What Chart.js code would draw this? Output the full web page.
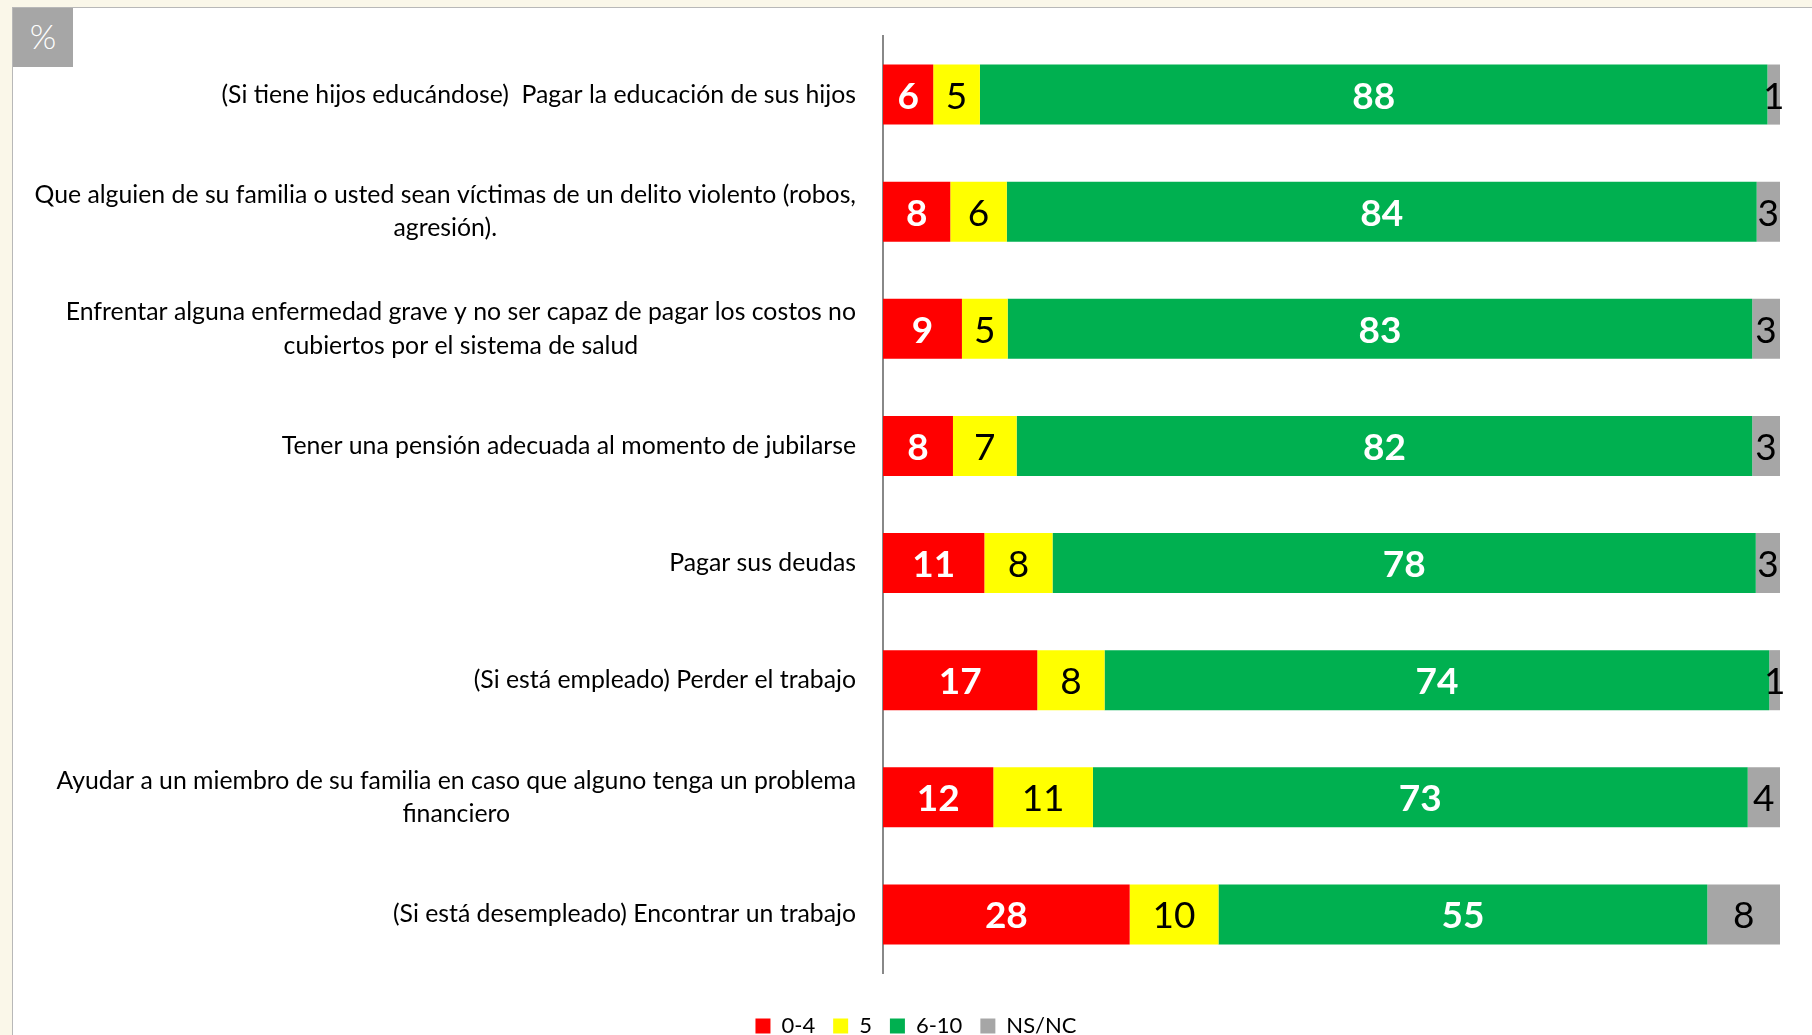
<!DOCTYPE html>
<html lang="es">
<head>
    <meta charset="UTF-8">
    <title>Preocupaciones financieras</title>
    <script src="https://cdn.jsdelivr.net/npm/chart.js"></script>
    <style>
        html, body {
            margin: 0;
            padding: 0;
        }
        body {
            width: 1812px;
            height: 1035px;
            background: #faf7e9;
            position: relative;
            overflow: hidden;
            font-family: Lato, sans-serif;
        }
        .panel {
            position: absolute;
            left: 12px;
            top: 7px;
            right: 0;
            bottom: 0;
            background: #fff;
            border-left: 1px solid #b8b8b8;
            border-top: 1px solid #b8b8b8;
        }
        .pct {
            position: absolute;
            left: 13px;
            top: 8px;
            width: 60px;
            height: 59px;
            background: #a6a6a6;
            color: #fff;
            font-size: 34px;
            font-weight: 300;
            line-height: 56px;
            text-align: center;
        }
        #myChart {
            position: absolute;
            left: 0;
            top: 0;
        }
    </style>
</head>
<body>
    <div class="panel"></div>
    <div class="pct">%</div>
    <canvas id="myChart" width="1812" height="1050"></canvas>

    <script>
        // rows, top to bottom
        const categories = [
            '(Si tiene hijos educándose)  Pagar la educación de sus hijos',
            ['Que alguien de su familia o usted sean víctimas de un delito violento (robos,', 'agresión).'],
            ['Enfrentar alguna enfermedad grave y no ser capaz de pagar los costos no', 'cubiertos por el sistema de salud'],
            'Tener una pensión adecuada al momento de jubilarse',
            'Pagar sus deudas',
            '(Si está empleado) Perder el trabajo',
            ['Ayudar a un miembro de su familia en caso que alguno tenga un problema', 'financiero'],
            '(Si está desempleado) Encontrar un trabajo'
        ];

        const seriesNames = ['0-4', '5', '6-10', 'NS/NC'];

        // percentages (shown rounded on the bars)
        const low = [5.6, 7.5, 8.8, 7.8, 11.3, 17.2, 12.3, 27.5];
        const mid = [5.2, 6.3, 5.1, 7.1, 7.6, 7.5, 11.1, 9.9];
        const high = [87.8, 83.6, 83.0, 82.0, 78.4, 74.1, 73.0, 54.5];
        const nsnc = [1.4, 2.6, 3.1, 3.1, 2.7, 1.2, 3.6, 8.1];

        const colors = ['#ff0000', '#ffff00', '#00b050', '#a6a6a6'];
        const labelStyles = [
            { color: '#ffffff', weight: 'bold' },
            { color: '#000000', weight: 'normal' },
            { color: '#ffffff', weight: 'bold' },
            { color: '#000000', weight: 'normal' }
        ];

        const FONT = 'Lato, sans-serif';

        // numbers inside the bar segments
        const valueLabels = {
            id: 'valueLabels',
            afterDatasetsDraw(chart) {
                const ctx = chart.ctx;
                ctx.save();
                ctx.textAlign = 'center';
                ctx.textBaseline = 'middle';
                chart.data.datasets.forEach((ds, di) => {
                    const st = labelStyles[di];
                    const meta = chart.getDatasetMeta(di);
                    meta.data.forEach((bar, i) => {
                        const p = bar.getProps(['x', 'y', 'base'], true);
                        ctx.font = st.weight + ' 37px ' + FONT;
                        ctx.fillStyle = st.color;
                        ctx.fillText(String(Math.round(ds.data[i])), (p.x + p.base) / 2, p.y + 2);
                    });
                });
                ctx.restore();
            }
        };

        // category labels: block right-aligned, lines centred inside it
        const rowLabels = {
            id: 'rowLabels',
            afterDraw(chart) {
                const ctx = chart.ctx;
                const yScale = chart.scales.y;
                const right = chart.chartArea.left - 27;
                ctx.save();
                ctx.font = '24.8px ' + FONT;
                ctx.fillStyle = '#000';
                ctx.textAlign = 'center';
                ctx.textBaseline = 'middle';
                categories.forEach((lab, i) => {
                    const lines = Array.isArray(lab) ? lab : [lab];
                    const w = Math.max(...lines.map(l => ctx.measureText(l).width));
                    const cx = right - w / 2;
                    const yc = yScale.getPixelForValue(i);
                    lines.forEach((l, k) => {
                        ctx.fillText(l, cx, yc + (k - (lines.length - 1) / 2) * 33.5);
                    });
                });
                ctx.restore();
            }
        };

        function createChart() {
            const ctx = document.getElementById('myChart').getContext('2d');
            const series = [low, mid, high, nsnc];
            new Chart(ctx, {
                type: 'bar',
                data: {
                    labels: categories,
                    datasets: series.map((vals, i) => ({
                        label: seriesNames[i],
                        data: vals,
                        backgroundColor: colors[i],
                        borderWidth: 0,
                        barPercentage: 0.513,
                        categoryPercentage: 1
                    }))
                },
                options: {
                    indexAxis: 'y',
                    responsive: false,
                    animation: false,
                    devicePixelRatio: 1,
                    layout: {
                        padding: { top: 36, right: 32, left: 52, bottom: 3 }
                    },
                    scales: {
                        x: {
                            stacked: true,
                            min: 0,
                            max: 100,
                            display: true,
                            grid: { display: false },
                            border: { display: false },
                            ticks: { display: false },
                            afterFit: s => { s.height = 24; }
                        },
                        y: {
                            stacked: true,
                            grid: { display: false },
                            border: { display: true, color: '#888888', width: 2 },
                            ticks: { display: false },
                            afterFit: s => { s.width = 831; }
                        }
                    },
                    plugins: {
                        tooltip: { enabled: false },
                        legend: {
                            position: 'bottom',
                            labels: {
                                boxWidth: 15,
                                boxHeight: 15,
                                padding: 18,
                                color: '#000',
                                font: { size: 22, family: FONT }
                            }
                        }
                    }
                },
                plugins: [valueLabels, rowLabels]
            });
        }

        Promise.all([
            document.fonts.load('25px Lato'),
            document.fonts.load('bold 37px Lato')
        ]).then(createChart, createChart);
    </script>
</body>
</html>
